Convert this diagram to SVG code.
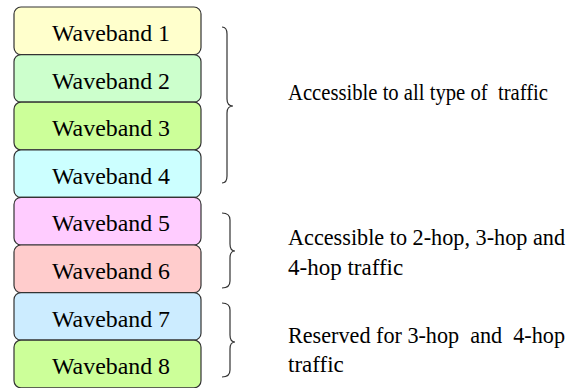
<svg xmlns="http://www.w3.org/2000/svg" width="580" height="388" viewBox="0 0 580 388">
<style>
.box{stroke:#333;stroke-width:1.2}
.lbl{font-size:24px;fill:#000;text-anchor:middle}
.txt{font-size:23px;fill:#000}
.brace{fill:none;stroke:#333;stroke-width:1.2}
</style>
<rect width="580" height="388" fill="#fff"/>
<g id="wb1"><rect class="box" x="14" y="7" width="187" height="47.6" rx="7" fill="#FFFFCC"/><text class="lbl" font-family="Liberation Serif" x="111" y="41" textLength="118" lengthAdjust="spacingAndGlyphs">Waveband 1</text></g>
<g id="wb2"><rect class="box" x="14" y="54.6" width="187" height="47.6" rx="7" fill="#CCFFCC"/><text class="lbl" font-family="Liberation Serif" x="111" y="88.6" textLength="118" lengthAdjust="spacingAndGlyphs">Waveband 2</text></g>
<g id="wb3"><rect class="box" x="14" y="102.2" width="187" height="47.6" rx="7" fill="#CCFF99"/><text class="lbl" font-family="Liberation Serif" x="111" y="136.2" textLength="118" lengthAdjust="spacingAndGlyphs">Waveband 3</text></g>
<g id="wb4"><rect class="box" x="14" y="149.8" width="187" height="47.6" rx="7" fill="#CCFFFF"/><text class="lbl" font-family="Liberation Serif" x="111" y="183.8" textLength="118" lengthAdjust="spacingAndGlyphs">Waveband 4</text></g>
<g id="wb5"><rect class="box" x="14" y="197.4" width="187" height="47.6" rx="7" fill="#FFCCFF"/><text class="lbl" font-family="Liberation Serif" x="111" y="231.4" textLength="118" lengthAdjust="spacingAndGlyphs">Waveband 5</text></g>
<g id="wb6"><rect class="box" x="14" y="245" width="187" height="47.6" rx="7" fill="#FFCCCC"/><text class="lbl" font-family="Liberation Serif" x="111" y="279" textLength="118" lengthAdjust="spacingAndGlyphs">Waveband 6</text></g>
<g id="wb7"><rect class="box" x="14" y="292.6" width="187" height="47.6" rx="7" fill="#CCECFF"/><text class="lbl" font-family="Liberation Serif" x="111" y="326.6" textLength="118" lengthAdjust="spacingAndGlyphs">Waveband 7</text></g>
<g id="wb8"><rect class="box" x="14" y="340.2" width="187" height="47.6" rx="7" fill="#CCFF99"/><text class="lbl" font-family="Liberation Serif" x="111" y="374.2" textLength="118" lengthAdjust="spacingAndGlyphs">Waveband 8</text></g>
<g id="connectors">
<path class="brace" d="M222,27 Q227,27 227,34 L227,99 Q227,106 233,106 Q227,106 227,113 L227,176 Q227,183 222,183"/>
<path class="brace" d="M222,213 Q230,213 230,220 L230,244 Q230,251 235,251 Q230,251 230,258 L230,281 Q230,288 222,288"/>
<path class="brace" d="M222,303 Q230,303 230,310 L230,335 Q230,342 235,342 Q230,342 230,349 L230,370 Q230,377 222,377"/>
</g>
<g id="labels" font-family="Liberation Serif">
<text class="txt" x="288" y="100" textLength="260" lengthAdjust="spacingAndGlyphs" xml:space="preserve">Accessible to all type of  traffic</text>
<text class="txt" x="288" y="245" textLength="277" lengthAdjust="spacingAndGlyphs">Accessible to 2-hop, 3-hop and</text>
<text class="txt" x="288" y="275">4-hop traffic</text>
<text class="txt" x="288" y="343" textLength="277" lengthAdjust="spacingAndGlyphs" xml:space="preserve">Reserved for 3-hop  and  4-hop</text>
<text class="txt" x="288" y="372">traffic</text>
</g>
</svg>
